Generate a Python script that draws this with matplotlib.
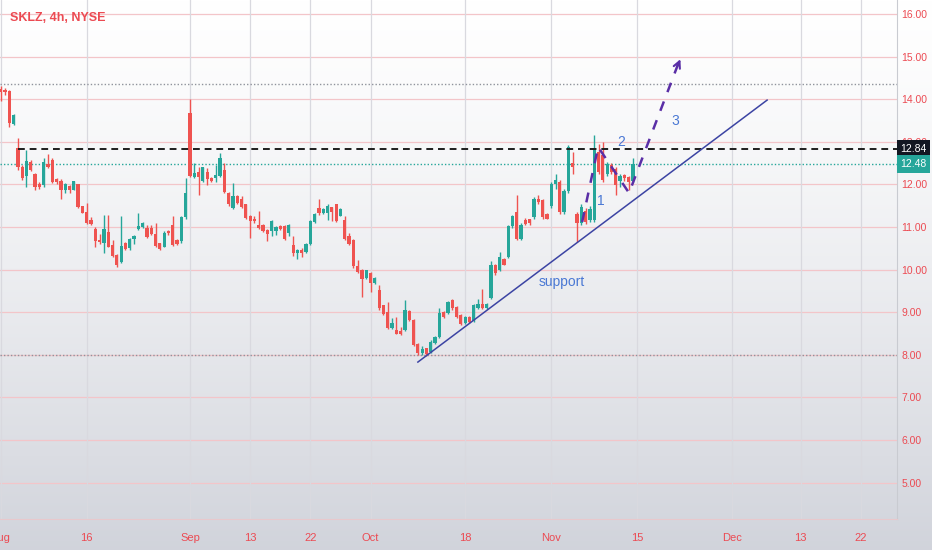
import numpy as np
from matplotlib import pyplot as plt
from matplotlib.transforms import blended_transform_factory

# 4h candles, 2 bars per trading day, from 2021-08-02 to 2021-11-12
opens = [14.25, 14.22, 14.2, 13.43, 12.85, 12.4, 12.2, 12.53, 12.25, 12.02,
         11.98, 12.49, 12.57, 12.12, 12.09, 11.88, 11.96, 11.88, 12.0, 11.49,
         11.35, 11.16, 10.95, 10.7, 10.62, 10.89, 10.58, 10.34, 10.19, 10.62,
         10.5, 10.73, 10.96, 11.0, 10.98, 10.97, 10.84, 10.62, 10.54,
         10.9, 11.04, 10.7, 10.67, 11.24, 13.68, 12.18, 12.3, 12.08, 12.29,
         12.15, 12.16, 12.2, 12.35, 11.81, 11.45, 11.73, 11.65, 11.53, 11.26,
         11.2, 11.04, 11.04, 10.93, 10.9, 10.9, 11.02, 11.02, 10.86, 10.57,
         10.4, 10.47, 10.41, 10.6, 11.12, 11.45, 11.34, 11.33, 11.46,
         11.53, 11.27, 11.17, 10.8, 10.69, 10.08, 10.0, 9.81, 9.91, 9.69,
         9.53, 9.16, 9.0, 8.64, 8.58, 8.56, 8.58, 9.03, 8.81, 8.25,
         8.05, 8.15, 8.07, 8.28, 8.42, 9.0, 8.98, 9.28, 9.13, 8.93,
         8.75, 8.88, 8.8, 9.09, 9.2, 9.11, 9.34, 10.1,
         10.0, 10.26, 10.3, 11.02, 11.35, 10.73, 11.16, 11.18, 11.24, 11.67,
         11.63, 11.31, 11.5, 12.0, 12.05, 11.35, 11.85, 12.5, 11.3, 11.1,
         11.38, 11.16, 11.16, 12.76, 12.7, 12.25, 12.45, 12.37, 12.08, 12.22,
         12.18, 12.08]
closes = [14.18, 14.17, 13.45, 13.63, 12.4, 12.15, 12.55, 12.33, 11.93, 11.93,
          12.53, 12.4, 12.06, 12.05, 11.87, 12.02, 11.87, 12.08, 11.46, 11.34,
          11.1, 11.07, 10.68, 10.66, 10.95, 10.54, 10.32, 10.1, 10.56, 10.49,
          10.73, 10.78, 11.03, 11.1, 10.77, 10.84, 10.56, 10.48, 10.87,
          10.85, 10.57, 10.61, 11.24, 11.79, 12.2, 12.27, 12.18, 12.4, 12.12,
          12.08, 12.22, 12.61, 11.82, 11.53, 11.73, 11.56, 11.48, 11.22, 11.15,
          11.14, 10.98, 10.9, 10.83, 11.14, 11.0, 10.96, 10.73, 11.04, 10.4,
          10.46, 10.4, 10.6, 11.14, 11.3, 11.32, 11.42, 11.5, 11.36,
          11.15, 11.43, 10.73, 10.6, 10.08, 9.95, 9.79, 9.98, 9.69, 9.81,
          9.09, 8.95, 8.64, 8.74, 8.5, 8.48, 9.06, 8.81, 8.23, 8.05,
          8.13, 8.02, 8.3, 8.42, 8.98, 8.89, 9.24, 9.09, 8.89, 8.73,
          8.89, 8.77, 9.16, 9.2, 9.09, 9.19, 10.1, 9.91,
          10.3, 10.12, 11.02, 11.25, 10.72, 11.04, 11.08, 11.1, 11.67, 11.59,
          11.24, 11.2, 12.0, 12.1, 11.35, 11.85, 12.88, 12.42, 11.1, 11.47,
          11.12, 11.43, 12.84, 12.3, 12.1, 12.49, 12.3, 11.98, 12.2, 12.14,
          12.06, 12.48]
highs = [14.3, 14.27, 14.22, 13.65, 13.08, 12.45, 12.8, 12.57, 12.28, 12.06,
         12.63, 12.71, 12.61, 12.14, 12.12, 12.04, 11.98, 12.09, 12.0, 11.5,
         11.57, 11.23, 11.0, 10.84, 11.28, 11.28, 10.7, 10.36, 11.26, 10.66,
         10.75, 10.81, 11.32, 11.12, 11.05, 11.05, 11.1, 10.63, 10.91,
         10.93, 11.27, 10.73, 11.26, 12.16, 14.0, 12.5, 12.4, 12.42, 12.38,
         12.17, 12.45, 12.73, 12.51, 11.83, 12.04, 11.76, 11.74, 11.55, 11.28,
         11.26, 11.38, 11.06, 10.95, 11.16, 11.02, 11.04, 11.04, 11.06, 10.79,
         10.48, 10.5, 10.62, 11.16, 11.33, 11.65, 11.45, 11.53, 11.48,
         11.55, 11.45, 11.27, 10.86, 10.72, 10.22, 10.02, 10.0, 9.95, 9.83,
         9.63, 9.18, 9.24, 8.86, 8.89, 8.66, 9.28, 9.05, 8.83, 8.27,
         8.2, 8.17, 8.35, 8.45, 9.1, 9.02, 9.26, 9.32, 9.15, 8.95,
         8.91, 8.9, 9.2, 9.32, 9.55, 9.21, 10.2, 10.13,
         10.42, 10.28, 11.05, 11.28, 11.75, 11.1, 11.22, 11.2, 11.7, 11.75,
         11.65, 11.33, 12.05, 12.25, 12.1, 11.9, 12.93, 12.75, 11.35, 11.55,
         11.45, 11.5, 13.15, 12.95, 13.0, 12.52, 12.5, 12.4, 12.25, 12.25,
         12.2, 12.63]
lows = [13.95, 14.1, 13.35, 13.4, 12.33, 12.1, 11.93, 12.31, 11.87, 11.9,
        11.93, 12.38, 12.04, 12.0, 11.65, 11.79, 11.8, 11.86, 11.45, 11.32,
        11.07, 11.05, 10.54, 10.6, 10.38, 10.52, 10.3, 10.07, 10.15, 10.46,
        10.47, 10.6, 10.93, 10.97, 10.75, 10.82, 10.54, 10.46, 10.52,
        10.82, 10.55, 10.58, 10.63, 11.2, 12.17, 12.15, 11.75, 12.05, 11.98,
        12.05, 12.06, 12.17, 11.8, 11.5, 11.42, 11.53, 11.45, 11.2, 10.75,
        11.1, 10.96, 10.88, 10.67, 10.79, 10.82, 10.94, 10.7, 10.79, 10.32,
        10.25, 10.3, 10.4, 10.58, 11.1, 11.28, 11.3, 11.16, 11.15,
        11.12, 11.25, 10.69, 10.57, 10.05, 9.93, 9.36, 9.78, 9.48, 9.67,
        9.06, 8.93, 8.6, 8.6, 8.48, 8.46, 8.55, 8.79, 8.2, 8.0,
        7.99, 7.97, 8.05, 8.26, 8.4, 8.86, 8.96, 9.05, 8.87, 8.71,
        8.73, 8.75, 8.78, 9.07, 9.07, 9.08, 9.3, 9.88,
        9.97, 10.1, 10.28, 10.97, 10.7, 10.7, 11.05, 11.05, 11.2, 11.55,
        11.2, 11.18, 11.45, 11.9, 11.3, 11.3, 11.8, 12.25, 10.66, 11.05,
        11.08, 11.12, 11.12, 12.25, 12.05, 12.2, 12.25, 11.75, 11.95, 12.08,
        11.88, 12.05]

start_day = '2021-08-02'
holidays = ['2021-09-06', '2021-11-25']
tick_dates = ['2021-08-02', '2021-08-16', '2021-09-01', '2021-09-13', '2021-09-22',
              '2021-10-01', '2021-10-18', '2021-11-01', '2021-11-15', '2021-12-01',
              '2021-12-13', '2021-12-22']
tick_labels = ['Aug', '16', 'Sep', '13', '22', 'Oct', '18', 'Nov', '15', 'Dec', '13', '22']
price_ticks = [5, 6, 7, 8, 9, 10, 11, 12, 13, 14, 15, 16]

resistance = 12.84
last_price = 12.48
upper_level = 14.35
lower_level = 8.0

# support line and projected wave path (bar index, price)
support_x = [97, 178.2]
support_y = [7.83, 13.98]
wave_x = [135.2, 138.9, 146.1, 157.6]
wave_y = [11.12, 12.88, 11.8, 14.85]

RED = '#ef5350'
GREEN = '#26a69a'
TXT_RED = '#ec4a52'

plt.rcParams['font.family'] = ['Liberation Sans', 'DejaVu Sans']

W, H = 932, 550
fig = plt.figure(figsize=(W / 100, H / 100), dpi=100)

# faded background
bg = fig.add_axes([0, 0, 1, 1], zorder=-1)
grad = np.linspace(0, 1, 256).reshape(-1, 1)
top = np.array([1.0, 1.0, 1.0])
bot = np.array([0.82, 0.83, 0.86])
img = top + (bot - top) * grad[..., None] ** 1.3
bg.imshow(img, aspect='auto', extent=[0, 1, 0, 1], origin='upper')
bg.set_axis_off()

ax = fig.add_axes([0, 31 / H, 897 / W, 519 / H])
ax.set_facecolor('none')
ax.set_xlim(-0.16, 208.4)
ax.set_ylim(4.146, 16.33)

o = np.array(opens)
c = np.array(closes)
h = np.array(highs)
l = np.array(lows)
idx = np.arange(len(o))
cols = np.where(c >= o, GREEN, RED)

ax.vlines(idx, l, h, colors=cols, linewidth=1.0, zorder=3)
bottoms = np.minimum(o, c)
heights = np.maximum(np.abs(c - o), 0.03)
ax.bar(idx, heights, bottom=bottoms, width=0.75, color=cols, linewidth=0, zorder=4)

# grid
for p in price_ticks:
    ax.axhline(p, color='#f3c5c9', linewidth=0.9, zorder=1)
tick_pos = [2 * np.busday_count(start_day, d, holidays=holidays) for d in tick_dates]
for t in tick_pos:
    ax.axvline(t, color='#d9d9df', linewidth=0.9, zorder=1)

# levels
ax.axhline(upper_level, color='#8f939c', linewidth=1.0, linestyle=(0, (1, 1.5)), zorder=2)
ax.axhline(lower_level, color='#8f939c', linewidth=1.0, linestyle=(0, (1, 1.5)), zorder=2)
ax.axhline(last_price, color=GREEN, linewidth=1.0, linestyle=(0, (1, 1.5)), zorder=2)
ax.plot([4, 208.4], [resistance, resistance], color='#1e1e1e', linewidth=1.4,
        linestyle=(0, (3.5, 2.5)), zorder=5)

# drawings
ax.plot(support_x, support_y, color='#3c44a3', linewidth=1.1, zorder=6)
ax.plot(wave_x, wave_y, color='#5a2ea6', linewidth=1.8, linestyle=(0, (4, 4)), zorder=6)
ax.annotate('', xy=(158.3, 15.0), xytext=(157.0, 14.7),
            arrowprops=dict(arrowstyle='->', color='#5a2ea6', lw=1.5, mutation_scale=12),
            zorder=6)
lbl = '#4a78d4'
ax.text(130.5, 9.72, 'support', color=lbl, fontsize=10, ha='center', va='center', zorder=7)
ax.text(139.6, 11.6, '1', color=lbl, fontsize=10, ha='center', va='center', zorder=7)
ax.text(144.2, 13.0, '2', color=lbl, fontsize=10, ha='center', va='center', zorder=7)
ax.text(156.8, 13.5, '3', color=lbl, fontsize=10, ha='center', va='center', zorder=7)

# axes styling
for s in ax.spines.values():
    s.set_visible(False)
ax.yaxis.tick_right()
ax.set_yticks(price_ticks)
ax.set_yticklabels([f'{p:.2f}' for p in price_ticks])
ax.tick_params(axis='y', length=0, pad=3, labelsize=7.5, labelcolor=TXT_RED)
ax.set_xticks(tick_pos)
ax.set_xticklabels(tick_labels)
ax.tick_params(axis='x', length=0, pad=10, labelsize=8, labelcolor=TXT_RED)
ax.spines['right'].set_visible(True)
ax.spines['right'].set_color('#c9cbd1')
ax.spines['bottom'].set_visible(True)
ax.spines['bottom'].set_color('#e8c8cc')

tr = blended_transform_factory(ax.transAxes, ax.transData)
ax.text(1.004, resistance, f'{resistance:.2f}', transform=tr, color='white', fontsize=7.5,
        ha='left', va='center', clip_on=False, zorder=10,
        bbox=dict(boxstyle='square,pad=0.35', fc='#131722', ec='none'))
ax.text(1.004, last_price, f'{last_price:.2f}', transform=tr, color='white', fontsize=7.5,
        ha='left', va='center', clip_on=False, zorder=10,
        bbox=dict(boxstyle='square,pad=0.35', fc=GREEN, ec='none'))

fig.text(10 / W, 1 - 18 / H, 'SKLZ, 4h, NYSE', color=TXT_RED, fontsize=9,
         fontweight='bold', va='center', ha='left')

fig.savefig('out.png', dpi=100)
